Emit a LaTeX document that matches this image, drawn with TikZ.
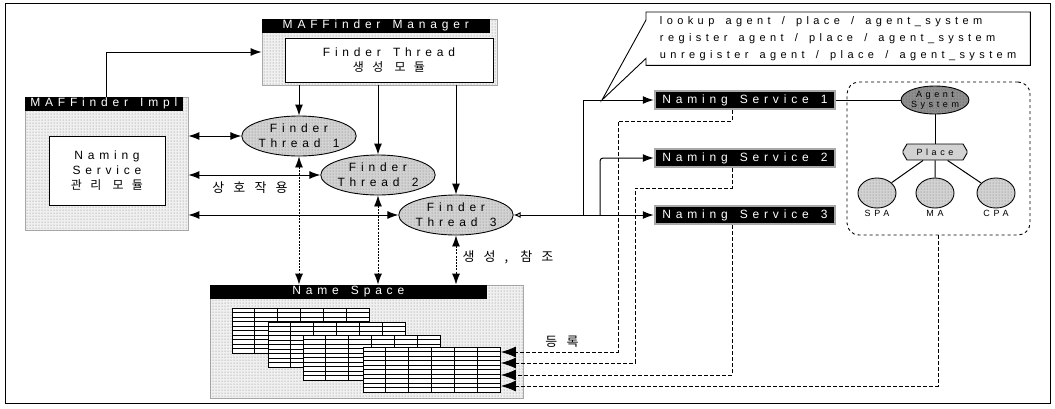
\documentclass[tikz,border=0pt]{standalone}
\usepackage{fontspec}
\setmainfont[LetterSpace=40, WordSpace=1.5]{Liberation Sans}
\newfontfamily\krfont[LetterSpace=70]{Noto Sans CJK KR}
\usetikzlibrary{shapes.geometric, shapes.misc, arrows.meta, patterns, positioning, calc}
\definecolor{speckcol}{HTML}{F0F0F0}
\definecolor{threadcol}{HTML}{D2D2D2}
\definecolor{agentcol}{HTML}{8E8E8E}
\definecolor{dotcol}{HTML}{7A7A7A}
\definecolor{rimcol}{HTML}{A8A8A8}
\newcommand\boxfont{\fontsize{12}{15}\selectfont}
\newcommand\titlefont{\fontsize{12}{12}\selectfont}
\newcommand\smallfont{\fontsize{9}{10}\selectfont}

\begin{document}
\begin{tikzpicture}[x=1pt, y=-1pt,
  panel/.style={rectangle, draw=rimcol, line width=0.8pt, fill=speckcol,
                postaction={pattern=dots, pattern color=dotcol}},
  titlebar/.style={rectangle, fill=black, text=white, minimum height=14pt,
                   inner sep=0pt, font=\titlefont},
  innerbox/.style={rectangle, draw=black, fill=white, line width=0.9pt,
                   align=center, font=\boxfont},
  thread/.style={ellipse, draw=black, line width=0.9pt, fill=threadcol,
                 postaction={pattern=dots, pattern color=dotcol},
                 minimum width=114pt, minimum height=40pt, inner sep=0pt,
                 align=center, font=\boxfont},
  tablebox/.style={rectangle, draw=black, line width=0.9pt, fill=white,
                   minimum width=137pt, minimum height=45pt, inner sep=0pt},
  colline/.style={line width=0.8pt},
  rowline/.style={line width=0.35pt},
  nsbox/.style={rectangle, fill=black, text=white, draw=rimcol, line width=2.5pt,
                minimum width=180pt, minimum height=18pt, inner sep=0pt, font=\boxfont},
  opsbox/.style={rectangle, align=left, inner sep=0pt,
                 minimum width=384pt, minimum height=53pt, font=\fontsize{11}{17}\selectfont},
  groupbox/.style={rectangle, draw=black, dashed, line width=0.9pt, rounded corners=12pt,
                   minimum width=183pt, minimum height=153pt},
  agent/.style={ellipse, draw=black, line width=0.9pt, fill=agentcol,
                postaction={pattern=dots, pattern color=black!70},
                minimum width=66pt, minimum height=28pt, inner sep=0pt,
                align=center, font=\smallfont},
  placebox/.style={chamfered rectangle, chamfered rectangle xsep=8pt,
                   chamfered rectangle angle=30, draw=black, line width=0.9pt,
                   fill=threadcol, minimum width=64pt, minimum height=16pt,
                   inner sep=0pt, font=\smallfont},
  member/.style={ellipse, draw=black, line width=0.9pt, fill=threadcol,
                 postaction={pattern=dots, pattern color=dotcol},
                 minimum width=38pt, minimum height=30pt, inner sep=0pt},
  tag/.style={inner sep=1pt, font=\smallfont},
  krlabel/.style={inner sep=1pt, font=\fontsize{13}{15}\krfont},
  flow/.style={-{Latex[length=11pt,width=8pt]}, line width=1pt},
  twoway/.style={{Latex[length=11pt,width=8pt]}-{Latex[length=11pt,width=8pt]}, line width=1pt},
  access/.style={{Latex[length=11pt,width=8pt]}-{Latex[length=11pt,width=8pt]},
                 line width=0.9pt, dash pattern=on 2pt off 1.2pt},
  feed/.style={-{Latex[length=15pt,width=11pt]}, line width=0.9pt, dash pattern=on 4pt off 2pt},
  link/.style={line width=1pt},
]
  \useasboundingbox (0,0) rectangle (1055,408);
  \draw[line width=1pt] (5,3) rectangle (1050,403);

  % finder manager and impl
  \node[panel, minimum width=235pt, minimum height=66pt] (mgr) at (379.5,52) {};
  \node[titlebar, anchor=north west, minimum width=228pt] (mgrtitle) at (mgr.north west) {MAFFinder Manager};
  \node[innerbox, minimum width=208pt, minimum height=44pt] (gen) at (389,60) {Finder Thread\\{\krfont 생성 모듈}};

  \node[panel, minimum width=163pt, minimum height=133pt] (impl) at (106.5,163.5) {};
  \node[titlebar, anchor=north west, minimum width=158pt] (impltitle) at (impl.north west) {MAFFinder Impl};
  \node[innerbox, minimum width=116pt, minimum height=69pt] (nsmgr) at (107,170.5) {Naming\\Service\\{\krfont 관리 모듈}};

  % finder threads
  \node[thread] (th1) at (299,136) {Finder\\Thread 1};
  \node[thread] (th2) at (378,175) {Finder\\Thread 2};
  \node[thread] (th3) at (456,215) {Finder\\Thread 3};

  % name space
  \node[panel, minimum width=313pt, minimum height=113pt] (nspace) at (366.5,341.5) {};
  \node[titlebar, anchor=north west, minimum width=277pt] (nstitle) at (nspace.north west) {Name Space};
  \foreach \bx/\by/\bn in {232/308/tb1, 268/322/tb2, 303/335/tb3, 363/347/tb4} {
    \node[tablebox, anchor=north west] (\bn) at (\bx,\by) {};
    \foreach \c in {1,...,5}
      \draw[colline] ($(\bn.north west)+(\c*22.83,0)$) -- ++(0,45);
    \foreach \r in {1,...,9}
      \draw[rowline] ($(\bn.north west)+(0,\r*4.5)$) -- ++(137,0);
  }

  % naming services
  \node[nsbox] (ns1) at (745,100) {Naming Service 1};
  \node[nsbox] (ns2) at (745,158) {Naming Service 2};
  \node[nsbox] (ns3) at (745,215) {Naming Service 3};

  % operations callout
  \coordinate (tip) at (602,100);
  \node[opsbox, anchor=north west] (ops) at (646,12)
    {lookup agent / place / agent\_system\\register agent / place / agent\_system\\unregister agent / place / agent\_system};
  \draw[line width=0.9pt] (ops.north west) -- (ops.north east) -- (ops.south east)
    -- (ops.south west) -- ($(ops.south west)+(0,-7)$) -- (tip)
    -- ($(ops.north west)+(0,8)$) -- cycle;

  % agent system group
  \node[groupbox] (agbox) at (938.5,158.5) {};
  \node[agent] (agsys) at (935,100) {Agent\\System};
  \node[placebox] (place) at (935,152) {Place};
  \node[member] (spa) at (877,193) {};
  \node[member] (ma) at (935,193) {};
  \node[member] (cpa) at (996,193) {};
  \node[tag, below=1pt of spa] (spatag) {SPA};
  \node[tag, below=1pt of ma] (matag) {MA};
  \node[tag, below=1pt of cpa] (cpatag) {CPA};
  \draw[link] (ns1.east) -- (agsys.west);
  \draw[link] (agsys) -- (place);
  \foreach \m in {spa, ma, cpa}
    \draw[link] (place) -- (\m);

  % labels
  \node[krlabel] (talk) at (250,188) {상호작용};
  \node[krlabel] (make) at (508,257) {생성, 참조};
  \node[krlabel] (reg) at (562,342) {등록};

  % connectors
  \draw[flow] (impl.north) |- (mgr.west);
  \foreach \t in {th1, th2, th3} {
    \draw[flow] (mgr.south -| \t.north) -- (\t.north);
    \draw[twoway] (impl.east |- \t.west) -- (\t.west);
    \draw[access] (\t.south) -- (\t.south |- nspace.north);
  }
  \coordinate (j1) at (583,215);
  \coordinate (j2) at (600,215);
  \draw[{Latex[open,length=7pt,width=6pt]}-{Latex[length=11pt,width=8pt]}, line width=1pt] (th3.east) -- (ns3.west);
  \draw[flow] (j1) |- (ns1.west);
  \draw[flow, rounded corners=3pt] (j2) |- (ns2.west);

  \foreach \i/\y in {1/352, 2/363, 3/375, 4/386}
    \coordinate (in\i) at (tb4.east |- 0,\y);
  \draw[feed] ([xshift=-13pt]ns1.south) |- (618,121) |- (in1);
  \draw[feed] ([xshift=-13pt]ns2.south) |- (635,188) |- (in2);
  \draw[feed] ([xshift=-13pt]ns3.south) |- (in3);
  \draw[feed] (agbox.south) |- (in4);
\end{tikzpicture}
\end{document}
